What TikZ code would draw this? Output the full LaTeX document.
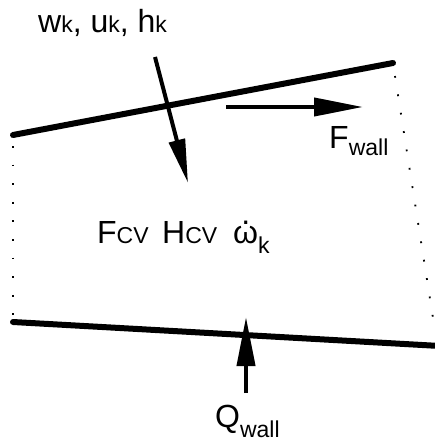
\documentclass[tikz,border=0pt]{standalone}
\usepackage{fontspec}
\setmainfont{Liberation Sans}
\usetikzlibrary{arrows.meta}
\newcommand{\subsz}{\fontsize{23}{27}\selectfont}
\newcommand{\lowsub}[2]{\raisebox{#1}{\subsz #2}}
\newcommand{\dotomega}{\ooalign{ω\cr\hidewidth\raisebox{0.58em}{.}\hidewidth\cr}}
\tikzset{
    wall/.style={line width=6pt,line cap=round},
    cvline/.style={line width=1.8pt,dash pattern=on 1.8pt off 16.8pt},
    flux/.style={-{Triangle[length=49pt,width=18pt]},line width=4pt},
    lbl/.style={anchor=base west,inner sep=0pt,font=\fontsize{32}{38}\selectfont}
}
\begin{document}
\begin{tikzpicture}[x=1pt,y=-1pt]
  \useasboundingbox (0,0) rectangle (434,441);

  % walls of the control volume
  \coordinate (tl) at (13,135);
  \coordinate (tr) at (393,63);
  \coordinate (bl) at (13,322);
  \coordinate (br) at (440,346);
  \draw[wall] (tl) -- (tr);
  \draw[wall] (bl) -- (br);

  % open boundaries
  \coordinate (lt) at (13,146);
  \coordinate (lb) at (13,318);
  \coordinate (rt) at (395,76);
  \coordinate (rb) at (433,318);
  \draw[cvline] (lt) -- (lb);
  \draw[cvline] (rt) -- (rb);

  % fluxes
  \coordinate (inS) at (155,57);
  \coordinate (inE) at (188,183);
  \coordinate (fS) at (226,107);
  \coordinate (fE) at (363,107);
  \coordinate (qS) at (246,393);
  \coordinate (qE) at (246,317);
  \draw[flux,-{Triangle[length=44pt,width=16pt]}] (inS) -- (inE);
  \draw[flux] (fS) -- (fE);
  \draw[flux] (qS) -- (qE);

  % labels
  \node[lbl] (inflow) at (38,33) {w\lowsub{0pt}{k}, u\lowsub{0pt}{k}, h\lowsub{0pt}{k}};
  \node[lbl] (fwall) at (329,148) {F\lowsub{-7pt}{wall}};
  \node[lbl] (fcv) at (97,243) {F\lowsub{0pt}{CV}};
  \node[lbl] (hcv) at (162,243) {H\lowsub{0pt}{CV}};
  \node[lbl] (omega) at (233,243) {\dotomega\lowsub{-10pt}{k}};
  \node[lbl] (qwall) at (215,427) {Q\lowsub{-10pt}{wall}};
\end{tikzpicture}
\end{document}
